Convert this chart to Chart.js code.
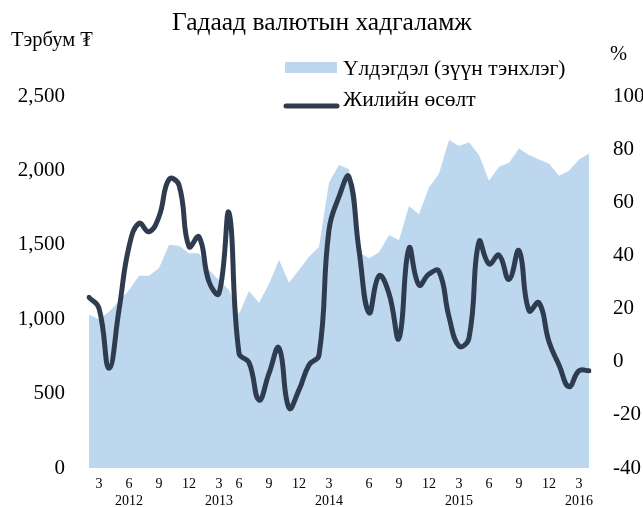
<!DOCTYPE html>
<html>
<head>
<meta charset="utf-8">
<script src="https://cdn.jsdelivr.net/npm/chart.js@4.4.1/dist/chart.umd.min.js"></script>
<style>
  html, body { margin: 0; padding: 0; background: #fff; }
  #wrap { position: relative; width: 643px; height: 507px; }
</style>
</head>
<body>
<div id="wrap"><canvas id="chart" width="643" height="507"></canvas></div>
<script>
// ===== DATA =====
const categories = [
    '2012-02', '2012-03', '2012-04', '2012-05', '2012-06', '2012-07', '2012-08', '2012-09', '2012-10', '2012-11', '2012-12',
    '2013-01', '2013-02', '2013-03', '2013-04', '2013-05', '2013-06', '2013-07', '2013-08', '2013-09', '2013-10', '2013-11', '2013-12',
    '2014-01', '2014-02', '2014-03', '2014-04', '2014-05', '2014-06', '2014-07', '2014-08', '2014-09', '2014-10', '2014-11', '2014-12',
    '2015-01', '2015-02', '2015-03', '2015-04', '2015-05', '2015-06', '2015-07', '2015-08', '2015-09', '2015-10', '2015-11', '2015-12',
    '2016-01', '2016-02', '2016-03', '2016-04'
];

// x tick labels as printed under the axis (by position)
const monthTicks = [
    '', '3', '', '', '6', '', '', '9', '', '', '12',
    '', '', '3', '', '6', '', '', '9', '', '', '12',
    '', '', '3', '', '', '', '6', '', '', '9', '', '', '12',
    '', '', '3', '', '', '6', '', '', '9', '', '', '12',
    '', '', '3', ''
];
const yearTicks = [
    '', '', '', '', '2012', '', '', '', '', '', '',
    '', '', '2013', '', '', '', '', '', '', '', '',
    '', '', '2014', '', '', '', '', '', '', '', '', '', '',
    '', '', '2015', '', '', '', '', '', '', '', '', '',
    '', '', '2016', ''
];

// balance, bn MNT (left axis)
const balance = [
    1030, 1000, 1050, 1120, 1196, 1292, 1292, 1344, 1500, 1494, 1443,
    1443, 1330, 1263, 1196, 1035, 1190, 1111, 1236, 1398, 1245, 1331, 1420,
    1485, 1918, 2036, 2007, 1450, 1410, 1450, 1566, 1530, 1761, 1705, 1885,
    1980, 2204, 2164, 2190, 2103, 1931, 2025, 2052, 2148, 2103, 2074, 2047,
    1964, 1998, 2074, 2114
];

// annual growth, % (right axis)
const growth = [
    24.2, 20.1, -2.5, 19.5, 43.3, 52.1, 48.9, 54.6, 68.6, 66.5, 43.3,
    47.0, 30.1, 25.7, 56.0, 3.2, -0.3, -14.4, -4.4, 5.2, -17.4, -10.6, -1.2,
    2.5, 49.6, 62.1, 69.6, 42.0, 18.4, 32.3, 25.7, 8.8, 42.7, 28.9, 33.0,
    34.0, 16.9, 5.9, 8.9, 45.2, 36.8, 40.1, 31.0, 41.8, 19.2, 22.2, 7.5,
    -1.2, -9.4, -3.4, -3.4
];

const leftTicks = [0, 500, 1000, 1500, 2000, 2500];
const rightTicks = [-40, -20, 0, 20, 40, 60, 80, 100];

const AREA_COLOR = '#bdd7ee';
const LINE_COLOR = '#2f3c4f';
const FONT = "'Liberation Serif', 'Times New Roman', 'DejaVu Serif', serif";

// draws title, axis titles and the legend
const textPlugin = {
    id: 'texts',
    afterDraw(chart) {
        const ctx = chart.ctx;
        ctx.save();
        ctx.fillStyle = '#000';
        ctx.textBaseline = 'middle';

        ctx.font = '25.5px ' + FONT;
        ctx.textAlign = 'center';
        ctx.fillText('Гадаад валютын хадгаламж', 322, 23);

        ctx.font = '20.5px ' + FONT;
        ctx.textAlign = 'left';
        ctx.fillText('Тэрбум ₮', 11, 41);
        ctx.fillText('%', 610, 55);

        // legend
        ctx.fillStyle = AREA_COLOR;
        ctx.fillRect(285, 62, 52, 11);
        ctx.strokeStyle = LINE_COLOR;
        ctx.lineWidth = 5;
        ctx.lineCap = 'round';
        ctx.beginPath();
        ctx.moveTo(286, 106);
        ctx.lineTo(337, 106);
        ctx.stroke();

        ctx.fillStyle = '#000';
        ctx.font = '21.5px ' + FONT;
        ctx.fillText('Үлдэгдэл (зүүн тэнхлэг)', 343, 69);
        ctx.fillText('Жилийн өсөлт', 343, 100);
        ctx.restore();
    }
};

const ctx = document.getElementById('chart');

new Chart(ctx, {
    type: 'line',
    data: {
        labels: categories,
        datasets: [
            {
                label: 'Жилийн өсөлт',
                data: growth,
                yAxisID: 'y1',
                borderColor: LINE_COLOR,
                borderWidth: 5,
                borderCapStyle: 'round',
                pointRadius: 0,
                tension: 0.45,
                fill: false
            },
            {
                label: 'Үлдэгдэл (зүүн тэнхлэг)',
                data: balance,
                yAxisID: 'y',
                backgroundColor: AREA_COLOR,
                borderWidth: 0,
                pointRadius: 0,
                tension: 0,
                fill: 'origin'
            }
        ]
    },
    options: {
        responsive: false,
        animation: false,
        layout: { padding: { top: 96, left: 0, right: 0, bottom: 0 } },
        plugins: {
            legend: { display: false },
            tooltip: { enabled: false }
        },
        scales: {
            x: {
                offset: false,
                grid: { display: false, drawTicks: false },
                border: { display: false },
                afterFit(scale) { scale.height = 39; },
                ticks: {
                    autoSkip: false,
                    maxRotation: 0,
                    minRotation: 0,
                    padding: 8,
                    color: '#000',
                    font: { family: FONT, size: 14, lineHeight: 1.2 },
                    callback(value, index) {
                        if (!monthTicks[index] && !yearTicks[index]) return '';
                        return [monthTicks[index], yearTicks[index]];
                    }
                }
            },
            y: {
                position: 'left',
                min: leftTicks[0],
                max: leftTicks[leftTicks.length - 1],
                grid: { display: false, drawTicks: false },
                border: { display: false },
                afterFit(scale) { scale.width = 89; },
                afterBuildTicks(scale) { scale.ticks = leftTicks.map(v => ({ value: v })); },
                ticks: {
                    padding: 24,
                    color: '#000',
                    font: { family: FONT, size: 21 },
                    callback: v => v.toLocaleString('en-US')
                }
            },
            y1: {
                position: 'right',
                min: rightTicks[0],
                max: rightTicks[rightTicks.length - 1],
                grid: { display: false, drawTicks: false },
                border: { display: false },
                afterFit(scale) { scale.width = 54; },
                afterBuildTicks(scale) { scale.ticks = rightTicks.map(v => ({ value: v })); },
                ticks: {
                    padding: 24,
                    color: '#000',
                    font: { family: FONT, size: 21 },
                    callback: v => String(v)
                }
            }
        }
    },
    plugins: [textPlugin]
});
</script>
</body>
</html>
